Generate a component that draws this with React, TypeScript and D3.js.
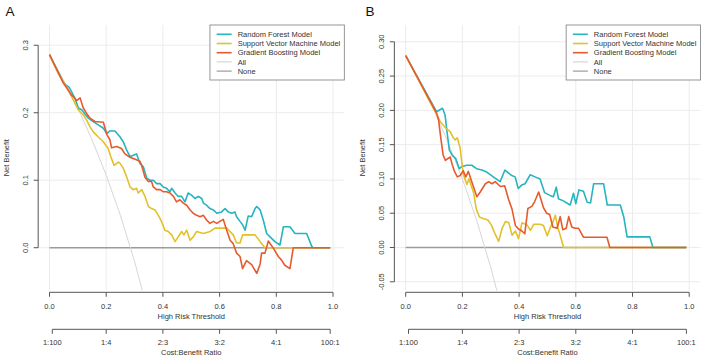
import * as d3 from 'd3';

const font = '"Liberation Sans", Arial, Helvetica, sans-serif';

// legend order is also the drawing order for the model curves
const seriesNames = ['Random Forest Model', 'Support Vector Machine Model', 'Gradient Boosting Model', 'All', 'None'];
const seriesColors = ['#26b4c0', '#e2c12a', '#e75a2e', '#d6d6d6', '#9b9b9b'];

const xTicks = [0, 0.2, 0.4, 0.6, 0.8, 1];
const ratioTicks = [1 / 101, 0.2, 0.4, 0.6, 0.8, 100 / 101];
const ratioLabels = ['1:100', '1:4', '2:3', '3:2', '4:1', '100:1'];

const yTicksA = [0, 0.1, 0.2, 0.3];
const yTicksB = [-0.05, 0, 0.05, 0.1, 0.15, 0.2, 0.25, 0.3];

// [threshold, net benefit]
const noneCurve = [[0, 0], [0.99, 0]];

const allA = [[0, 0.286], [0.05, 0.248], [0.1, 0.207], [0.15, 0.16], [0.2, 0.1075], [0.25, 0.048], [0.3, -0.02], [0.35, -0.1]];
const rfA = [[0, 0.286], [0.049, 0.245], [0.061, 0.24], [0.069, 0.238], [0.078, 0.231], [0.09, 0.221], [0.102, 0.207], [0.114, 0.204], [0.137, 0.192], [0.154, 0.187], [0.172, 0.182], [0.19, 0.177], [0.202, 0.169], [0.213, 0.173], [0.231, 0.173], [0.249, 0.164], [0.26, 0.157], [0.272, 0.145], [0.284, 0.135], [0.296, 0.137], [0.307, 0.139], [0.319, 0.125], [0.331, 0.12], [0.343, 0.103], [0.354, 0.1], [0.366, 0.1], [0.378, 0.095], [0.39, 0.095], [0.401, 0.09], [0.413, 0.088], [0.425, 0.083], [0.431, 0.088], [0.443, 0.081], [0.454, 0.076], [0.466, 0.076], [0.478, 0.068], [0.489, 0.081], [0.501, 0.078], [0.513, 0.073], [0.525, 0.076], [0.537, 0.073], [0.543, 0.066], [0.554, 0.063], [0.566, 0.058], [0.578, 0.056], [0.59, 0.051], [0.607, 0.053], [0.619, 0.058], [0.631, 0.053], [0.643, 0.051], [0.654, 0.053], [0.66, 0.046], [0.672, 0.039], [0.681, 0.034], [0.69, 0.026], [0.701, 0.047], [0.713, 0.046], [0.725, 0.058], [0.731, 0.061], [0.743, 0.056], [0.754, 0.041], [0.766, 0.021], [0.778, 0.016], [0.795, 0.009], [0.813, 0.004], [0.825, 0.031], [0.848, 0.031], [0.866, 0.021], [0.907, 0.021], [0.925, 0.002], [0.93, 0], [0.99, 0]];
const svmA = [[0, 0.286], [0.031, 0.258], [0.049, 0.246], [0.066, 0.234], [0.084, 0.219], [0.102, 0.204], [0.119, 0.197], [0.131, 0.189], [0.143, 0.179], [0.154, 0.172], [0.172, 0.164], [0.19, 0.157], [0.207, 0.147], [0.216, 0.135], [0.228, 0.122], [0.243, 0.127], [0.249, 0.125], [0.26, 0.118], [0.272, 0.105], [0.284, 0.09], [0.295, 0.086], [0.307, 0.088], [0.313, 0.081], [0.325, 0.086], [0.337, 0.076], [0.349, 0.061], [0.36, 0.058], [0.372, 0.056], [0.384, 0.048], [0.395, 0.039], [0.407, 0.026], [0.419, 0.024], [0.431, 0.019], [0.443, 0.009], [0.454, 0.016], [0.466, 0.024], [0.474, 0.019], [0.484, 0.026], [0.496, 0.011], [0.507, 0.016], [0.519, 0.024], [0.543, 0.021], [0.566, 0.024], [0.584, 0.029], [0.625, 0.029], [0.637, 0.024], [0.648, 0.019], [0.66, 0.007], [0.672, 0.007], [0.681, 0.019], [0.725, 0.019], [0.743, 0.009], [0.76, 0], [0.99, 0]];
const gbmA = [[0, 0.286], [0.049, 0.244], [0.078, 0.226], [0.084, 0.224], [0.096, 0.218], [0.108, 0.222], [0.119, 0.207], [0.131, 0.199], [0.143, 0.192], [0.16, 0.187], [0.19, 0.186], [0.202, 0.168], [0.213, 0.16], [0.219, 0.148], [0.237, 0.15], [0.254, 0.147], [0.266, 0.139], [0.284, 0.134], [0.302, 0.131], [0.319, 0.128], [0.325, 0.122], [0.337, 0.104], [0.349, 0.098], [0.36, 0.098], [0.366, 0.09], [0.378, 0.086], [0.39, 0.086], [0.401, 0.083], [0.413, 0.083], [0.425, 0.081], [0.437, 0.076], [0.448, 0.068], [0.46, 0.071], [0.472, 0.066], [0.484, 0.063], [0.496, 0.056], [0.507, 0.051], [0.519, 0.048], [0.531, 0.046], [0.543, 0.048], [0.554, 0.041], [0.566, 0.036], [0.578, 0.039], [0.59, 0.036], [0.601, 0.039], [0.613, 0.042], [0.625, 0.026], [0.637, 0.011], [0.648, 0.006], [0.66, -0.008], [0.672, -0.013], [0.681, -0.031], [0.695, -0.019], [0.713, -0.025], [0.731, -0.038], [0.743, -0.024], [0.748, -0.008], [0.76, -0.008], [0.772, 0.01], [0.79, -0.001], [0.807, -0.013], [0.818, -0.018], [0.83, -0.026], [0.848, -0.031], [0.86, 0], [0.99, 0]];

const allB = [[0, 0.28], [0.05, 0.242], [0.1, 0.2], [0.15, 0.153], [0.2, 0.1], [0.25, 0.04], [0.3, -0.029], [0.35, -0.108]];
const rfB = [[0, 0.28], [0.097, 0.207], [0.109, 0.198], [0.13, 0.203], [0.139, 0.193], [0.145, 0.171], [0.154, 0.142], [0.165, 0.134], [0.176, 0.13], [0.189, 0.115], [0.198, 0.118], [0.215, 0.12], [0.233, 0.12], [0.25, 0.115], [0.268, 0.113], [0.286, 0.11], [0.309, 0.103], [0.333, 0.096], [0.35, 0.113], [0.374, 0.105], [0.386, 0.103], [0.397, 0.086], [0.409, 0.091], [0.421, 0.093], [0.439, 0.106], [0.456, 0.103], [0.474, 0.1], [0.49, 0.08], [0.509, 0.076], [0.521, 0.074], [0.531, 0.088], [0.539, 0.071], [0.556, 0.068], [0.58, 0.062], [0.592, 0.079], [0.6, 0.064], [0.611, 0.084], [0.627, 0.082], [0.64, 0.066], [0.652, 0.065], [0.663, 0.093], [0.698, 0.093], [0.711, 0.062], [0.757, 0.062], [0.769, 0.045], [0.781, 0.0155], [0.861, 0.0155], [0.872, 0], [0.99, 0]];
const svmB = [[0, 0.28], [0.1, 0.201], [0.109, 0.195], [0.121, 0.184], [0.139, 0.175], [0.157, 0.169], [0.168, 0.16], [0.175, 0.157], [0.182, 0.16], [0.192, 0.145], [0.198, 0.124], [0.203, 0.107], [0.216, 0.092], [0.223, 0.1], [0.233, 0.088], [0.24, 0.079], [0.249, 0.056], [0.26, 0.0446], [0.275, 0.042], [0.29, 0.04], [0.302, 0.033], [0.314, 0.021], [0.328, 0.009], [0.34, 0.028], [0.352, 0.038], [0.364, 0.036], [0.375, 0.018], [0.387, 0.024], [0.398, 0.013], [0.41, 0.036], [0.428, 0.033], [0.44, 0.025], [0.452, 0.034], [0.475, 0.034], [0.486, 0.032], [0.499, 0.017], [0.511, 0.03], [0.518, 0.036], [0.528, 0.047], [0.536, 0.03], [0.545, 0.018], [0.557, 0], [0.99, 0]];
const gbmB = [[0, 0.28], [0.109, 0.196], [0.116, 0.186], [0.123, 0.162], [0.132, 0.135], [0.14, 0.127], [0.157, 0.132], [0.164, 0.121], [0.172, 0.111], [0.182, 0.103], [0.192, 0.105], [0.203, 0.112], [0.212, 0.103], [0.221, 0.111], [0.233, 0.096], [0.251, 0.074], [0.263, 0.081], [0.281, 0.093], [0.293, 0.096], [0.304, 0.093], [0.316, 0.096], [0.334, 0.089], [0.349, 0.09], [0.363, 0.07], [0.375, 0.056], [0.387, 0.032], [0.398, 0.027], [0.41, 0.024], [0.42, 0.02], [0.431, 0.057], [0.445, 0.06], [0.455, 0.067], [0.469, 0.081], [0.486, 0.058], [0.497, 0.05], [0.508, 0.048], [0.519, 0.03], [0.534, 0.028], [0.545, 0.045], [0.554, 0.026], [0.566, 0.028], [0.575, 0.045], [0.586, 0.03], [0.597, 0.028], [0.61, 0.028], [0.627, 0.015], [0.71, 0.015], [0.72, 0], [0.99, 0]];

type Pt = number[];

interface PanelProps {
  id: string;
  ox: number;
  tag: string;
  tagX: number;
  yDomain: [number, number];
  yTicks: number[];
  yFmt: (v: number) => string;
  models: Pt[][];
  all: Pt[];
}

function Panel({ id, ox, tag, tagX, yDomain, yTicks, yFmt, models, all }: PanelProps) {
  const x = d3.scaleLinear().domain([0, 1]).range([49.5 + ox, 333 + ox]);
  const y = d3.scaleLinear().domain(yDomain).range([290.5, 25]);
  const left = x(-0.04);
  const right = x(1.04);
  const top = y.range()[1];
  const bottom = y.range()[0];
  const line = d3.line<Pt>().x(d => x(d[0])).y(d => y(d[1]));
  const axisY = 292.3;
  const ratioY = 329.3;
  const txt = '#333';
  const ax = '#555';

  return (
    <g fontFamily={font}>
      <defs>
        <clipPath id={id}>
          <rect x={left} y={top} width={right - left} height={bottom - top} />
        </clipPath>
      </defs>
      <text x={tagX} y={15.5} fontSize={13.5} fill="#111">{tag}</text>

      {/* grid */}
      {xTicks.map(t => (
        <line key={'gx' + t} x1={x(t)} x2={x(t)} y1={top} y2={bottom} stroke="#ececec" strokeWidth={1} />
      ))}
      {yTicks.map(v => (
        <line key={'gy' + v} x1={left} x2={right} y1={y(v)} y2={y(v)} stroke="#ececec" strokeWidth={1} />
      ))}

      {/* curves */}
      <g clipPath={`url(#${id})`} fill="none" strokeLinejoin="round">
        <path d={line(noneCurve) ?? ''} stroke={seriesColors[4]} strokeWidth={1.5} />
        <path d={line(all) ?? ''} stroke={seriesColors[3]} strokeWidth={1} />
        {models.map((m, i) => (
          <path key={i} d={line(m) ?? ''} stroke={seriesColors[i]} strokeWidth={1.6} />
        ))}
      </g>

      {/* y axis */}
      <line x1={left} x2={left} y1={y(yTicks[0])} y2={y(yTicks[yTicks.length - 1])} stroke={ax} />
      {yTicks.map(v => (
        <g key={'ty' + v}>
          <line x1={left - 4.5} x2={left} y1={y(v)} y2={y(v)} stroke={ax} />
          <text transform={`translate(${left - 10.5},${y(v)}) rotate(-90)`} textAnchor="middle" fontSize={7.5} fill={txt}>
            {yFmt(v)}
          </text>
        </g>
      ))}
      <text transform={`translate(${left - 29},${(top + bottom) / 2}) rotate(-90)`} textAnchor="middle" fontSize={7.5} fill={txt}>
        Net Benefit
      </text>

      {/* threshold axis */}
      <line x1={x(0)} x2={x(1)} y1={axisY} y2={axisY} stroke={ax} />
      {xTicks.map(t => (
        <g key={'tx' + t}>
          <line x1={x(t)} x2={x(t)} y1={axisY} y2={axisY + 4.5} stroke={ax} />
          <text x={x(t)} y={308.5} textAnchor="middle" fontSize={7.5} fill={txt}>{t.toFixed(1)}</text>
        </g>
      ))}
      <text x={x(0.5)} y={318.5} textAnchor="middle" fontSize={7.5} fill={txt}>High Risk Threshold</text>

      {/* cost:benefit axis */}
      <line x1={x(ratioTicks[0])} x2={x(ratioTicks[ratioTicks.length - 1])} y1={ratioY} y2={ratioY} stroke={ax} />
      {ratioTicks.map((t, i) => (
        <g key={'tr' + i}>
          <line x1={x(t)} x2={x(t)} y1={ratioY} y2={ratioY + 4.5} stroke={ax} />
          <text x={x(t)} y={344.5} textAnchor="middle" fontSize={7.5} fill={txt}>{ratioLabels[i]}</text>
        </g>
      ))}
      <text x={x(0.5)} y={355} textAnchor="middle" fontSize={7.5} fill={txt}>Cost:Benefit Ratio</text>

      {/* legend */}
      <rect x={left + 171.8} y={top} width={right - left - 171.8} height={55} fill="#fff" stroke="#8a8a8a" strokeWidth={0.9} />
      {seriesNames.map((name, i) => {
        const ly = 34.3 + i * 9.2;
        return (
          <g key={name}>
            <line x1={left + 178.5} x2={left + 193.5} y1={ly} y2={ly} stroke={seriesColors[i]} strokeWidth={i < 3 ? 1.6 : 1.2} />
            <text x={left + 199.5} y={ly} dy="0.35em" fontSize={7.5} fill={txt}>{name}</text>
          </g>
        );
      })}
    </g>
  );
}

export default function App() {
  return (
    <svg
      width={708}
      height={362}
      viewBox="0 0 708 362"
      style={{ position: 'absolute', left: 0, top: 0, background: '#fff' }}
    >
      <rect width={708} height={362} fill="#fff" />
      <Panel
        id="clipA"
        ox={0}
        tag="A"
        tagX={5.5}
        yDomain={[-0.0634, 0.33]}
        yTicks={yTicksA}
        yFmt={v => v.toFixed(1)}
        models={[rfA, svmA, gbmA]}
        all={allA}
      />
      <Panel
        id="clipB"
        ox={356.2}
        tag="B"
        tagX={365.5}
        yDomain={[-0.0627, 0.3245]}
        yTicks={yTicksB}
        yFmt={v => v.toFixed(2)}
        models={[rfB, svmB, gbmB]}
        all={allB}
      />
    </svg>
  );
}
